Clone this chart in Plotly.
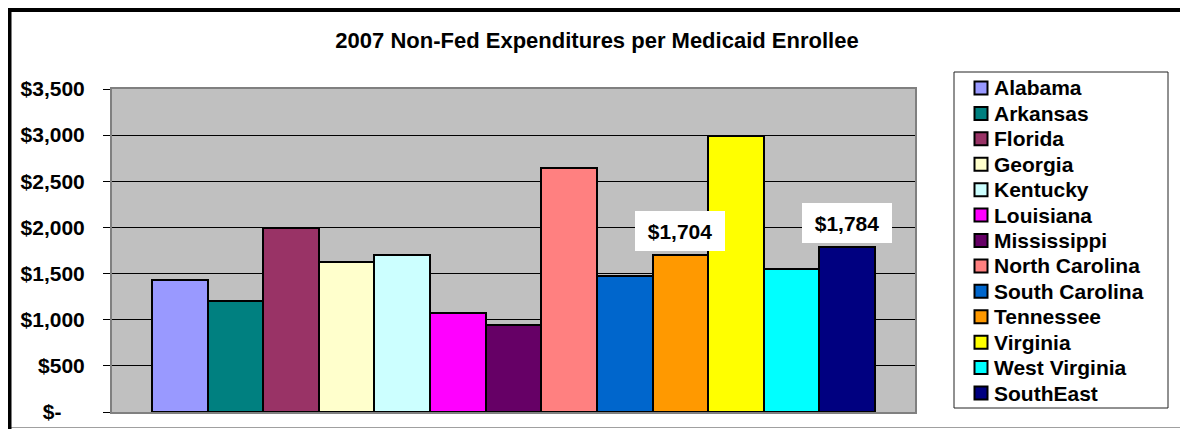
import plotly.graph_objects as go

# data
states = ["Alabama", "Arkansas", "Florida", "Georgia", "Kentucky", "Louisiana",
          "Mississippi", "North Carolina", "South Carolina", "Tennessee",
          "Virginia", "West Virginia", "SouthEast"]
spend = [1425, 1205, 1995, 1625, 1700, 1070, 940, 2645, 1470, 1704, 2995, 1550, 1784]
colors = ["#9999FF", "#008080", "#993366", "#FFFFCC", "#CCFFFF", "#FF00FF",
          "#660066", "#FF8080", "#0066CC", "#FF9900", "#FFFF00", "#00FFFF", "#000080"]
labelled = ["Tennessee", "SouthEast"]

tick_vals = [0, 500, 1000, 1500, 2000, 2500, 3000, 3500]
tick_text = ["$-\u00a0\u00a0\u00a0\u00a0", "$500", "$1,000", "$1,500", "$2,000",
             "$2,500", "$3,000", "$3,500"]

FONT = "Arial, Liberation Sans, sans-serif"
# the page body has an 8px margin, so the figure is drawn 8px in from the window corner
OFF = 8
W, H = 1188 - OFF, 429 - OFF
ML, MR, MT, MB = 112 - OFF, 273, 89 - OFF, 17
PW, PH = W - ML - MR, H - MT - MB


def px(x):
    # window pixel -> paper fraction
    return (x - OFF - ML) / PW


def py(y):
    return (H - MB - (y - OFF)) / PH


fig = go.Figure()

for state, val, col in zip(states, spend, colors):
    fig.add_trace(go.Bar(
        x=[state], y=[val], name=state,
        marker=dict(color=col, line=dict(color="black", width=2)),
        showlegend=False,
    ))

# value labels on white boxes
for state, val in zip(states, spend):
    if state in labelled:
        fig.add_annotation(
            x=state, y=val, xref="x", yref="y", yanchor="bottom", yshift=4,
            text=f"${val:,}", showarrow=False, bgcolor="white",
            width=90, height=40, borderpad=0, borderwidth=0,
            font=dict(family=FONT, size=21, color="black", weight="bold"),
        )

shapes = []
# outer chart frame
shapes.append(dict(type="line", xref="paper", yref="paper", x0=px(11), x1=px(1183),
                   y0=py(427.5), y1=py(427.5), line=dict(color="#A0A0A0", width=1)))
shapes.append(dict(type="rect", xref="paper", yref="paper", x0=px(9.5), x1=px(1185),
                   y0=py(445), y1=py(10), line=dict(color="black", width=4)))
# legend box
shapes.append(dict(type="rect", xref="paper", yref="paper", x0=px(954), x1=px(1168),
                   y0=py(408), y1=py(72), fillcolor="white",
                   line=dict(color="#222222", width=1)))

# legend entries
step = 25.42
for i, (state, col) in enumerate(zip(states, colors)):
    yc = 88 + i * step
    shapes.append(dict(type="rect", xref="paper", yref="paper",
                       x0=px(974.5), x1=px(987.5), y0=py(yc + 6.5), y1=py(yc - 6.5),
                       fillcolor=col, line=dict(color="black", width=2)))
    fig.add_annotation(
        x=px(992), y=py(yc), xref="paper", yref="paper", xanchor="left",
        yanchor="middle", text=state, showarrow=False,
        font=dict(family=FONT, size=21, color="black", weight="bold"),
    )

fig.update_layout(
    width=W, height=H,
    margin=dict(l=ML, r=MR, t=MT, b=MB, autoexpand=False),
    paper_bgcolor="white",
    plot_bgcolor="#C0C0C0",
    barmode="overlay", bargap=0,
    shapes=shapes,
    title=dict(text="2007 Non-Fed Expenditures per Medicaid Enrollee",
               x=(597 - OFF) / W, xref="container", xanchor="center",
               y=1 - (40 - OFF) / H, yref="container", yanchor="middle",
               font=dict(family=FONT, size=22, color="black", weight="bold")),
    font=dict(family=FONT, color="black"),
    xaxis=dict(type="category", categoryorder="array", categoryarray=states,
               range=[-1.22, 13.22], showticklabels=False, ticks="",
               showgrid=False, zeroline=False, showline=True,
               linecolor="#808080", linewidth=2, mirror=True, automargin=False),
    yaxis=dict(range=[0, 3500], tickvals=tick_vals, ticktext=tick_text,
               ticks="outside", ticklen=7, tickcolor="black", tickwidth=1,
               ticklabelstandoff=14,
               tickfont=dict(family=FONT, size=21, color="black", weight="bold"),
               showgrid=True, gridcolor="black", gridwidth=1, zeroline=False,
               showline=True, linecolor="#808080", linewidth=2, mirror=True,
               automargin=False),
)

fig.write_html("out.html")
